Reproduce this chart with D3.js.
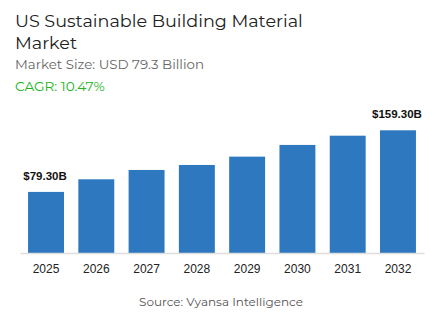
<!DOCTYPE html>
<html>
<head>
<meta charset="utf-8">
<script src="https://cdn.jsdelivr.net/npm/d3@7"></script>
<style>
  html, body { margin: 0; padding: 0; background: #fff; }
  svg { display: block; }
</style>
</head>
<body>
<div id="chart"></div>
<script>
const years = ["2025", "2026", "2027", "2028", "2029", "2030", "2031", "2032"];
const values = [79.3, 95.7, 107.8, 114.3, 125.1, 140.3, 152.3, 159.3];
const labels = ["$79.30B", "", "", "", "", "", "", "$159.30B"];

const W = 443, H = 332;
const svg = d3.select("#chart").append("svg").attr("width", W).attr("height", H);

const titleFont = "Montserrat, 'Open Sans', 'Noto Sans', sans-serif";
svg.append("text").attr("x", 15).attr("y", 27)
  .attr("font-family", titleFont).attr("font-size", 17.6).attr("fill", "#222")
  .text("US Sustainable Building Material");
svg.append("text").attr("x", 15).attr("y", 49)
  .attr("font-family", titleFont).attr("font-size", 17.6).attr("fill", "#222")
  .text("Market");
svg.append("text").attr("x", 15).attr("y", 69)
  .attr("font-family", titleFont).attr("font-size", 13.4).attr("fill", "#666")
  .text("Market Size: USD 79.3 Billion");
svg.append("text").attr("x", 15).attr("y", 91)
  .attr("font-family", titleFont).attr("font-size", 13.6).attr("fill", "#22b322")
  .text("CAGR: 10.47%");

const x = d3.scaleBand().domain(years).range([20, 424]).paddingInner(0.285).paddingOuter(0.16);
const y = d3.scaleLinear().domain([0, 159.3]).range([253, 130.3]);

svg.append("g").selectAll("rect").data(values).join("rect")
  .attr("x", (d, i) => x(years[i]))
  .attr("y", d => y(d))
  .attr("width", x.bandwidth())
  .attr("height", d => y(0) - y(d))
  .attr("fill", "#2e78c0");

const axis = svg.append("g").attr("transform", `translate(0,${y(0)})`)
  .call(d3.axisBottom(x).tickSize(0).tickPadding(11));
axis.select(".domain").attr("stroke", "#ddd").attr("stroke-width", 1.5);
axis.selectAll("text").attr("font-family", "'Liberation Sans', Arial, sans-serif")
  .attr("font-size", 12).attr("fill", "#222");

svg.append("g").selectAll("text").data(values).join("text")
  .attr("x", (d, i) => x(years[i]) + x.bandwidth() / 2 - 1)
  .attr("y", d => y(d) - 12)
  .attr("text-anchor", "middle")
  .attr("font-family", "'Liberation Sans', Arial, sans-serif")
  .attr("font-weight", "bold").attr("font-size", 11.5).attr("fill", "#111")
  .text((d, i) => labels[i]);

svg.append("text").attr("x", 221).attr("y", 306).attr("text-anchor", "middle")
  .attr("font-family", titleFont).attr("font-size", 12).attr("fill", "#555")
  .text("Source: Vyansa Intelligence");
</script>
</body>
</html>
